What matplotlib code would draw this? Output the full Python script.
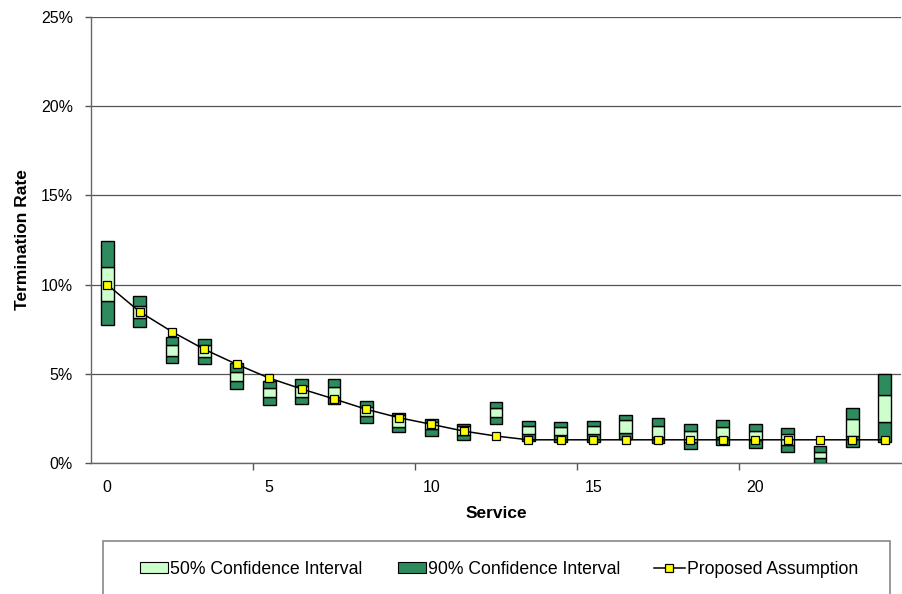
import matplotlib
matplotlib.use("Agg")
import matplotlib.pyplot as plt
from matplotlib.patches import Rectangle, Patch
from matplotlib.lines import Line2D
import numpy as np

plt.rcParams['font.family'] = ['Liberation Sans', 'DejaVu Sans']

service = list(range(25))
# percentiles in %
p05 = [7.74, 7.62, 5.62, 5.55, 4.17, 3.27, 3.33, 3.29, 2.26, 1.72, 1.51, 1.29, 2.19,
       1.25, 1.20, 1.20, 1.33, 1.10, 0.78, 1.00, 0.82, 0.60, 0.00, 0.88, 1.16]
p25 = [9.10, 8.11, 6.02, 5.96, 4.60, 3.68, 3.72, 3.72, 2.63, 2.04, 1.89, 1.57, 2.56,
       1.61, 1.57, 1.61, 1.66, 1.44, 1.20, 1.47, 1.27, 1.01, 0.26, 1.53, 2.28]
p75 = [10.97, 8.80, 6.61, 6.60, 5.12, 4.19, 4.33, 4.28, 3.16, 2.67, 2.32, 2.09, 3.07,
       2.07, 2.02, 2.09, 2.41, 2.07, 1.79, 2.04, 1.79, 1.61, 0.64, 2.47, 3.81]
p95 = [12.44, 9.36, 7.05, 6.95, 5.59, 4.60, 4.69, 4.69, 3.49, 2.82, 2.47, 2.20, 3.40,
       2.35, 2.28, 2.37, 2.69, 2.50, 2.19, 2.41, 2.19, 1.98, 0.94, 3.10, 4.97]
proposed = [10.0, 8.48, 7.36, 6.37, 5.53, 4.76, 4.15, 3.59, 3.01, 2.54, 2.17, 1.79, 1.51,
            1.30, 1.30, 1.30, 1.30, 1.30, 1.30, 1.30, 1.30, 1.30, 1.30, 1.30, 1.30]

x_labels = ['0', '5', '10', '15', '20']

dark = '#2E8B5E'
light = '#CCFFCC'

W, H = 902, 594
fig = plt.figure(figsize=(W / 100, H / 100), dpi=100)
ax = fig.add_axes([91 / W, 1 - 463 / H, (901 - 91) / W, (463 - 17) / H])

x = np.array(service)
p05a, p25a, p75a, p95a = map(np.array, (p05, p25, p75, p95))
bw = 0.4
ax.bar(x, p25a - p05a, bottom=p05a, width=bw, color=dark, edgecolor='black', linewidth=1.0, zorder=3)
ax.bar(x, p75a - p25a, bottom=p25a, width=bw, color=light, edgecolor='black', linewidth=1.0, zorder=3)
ax.bar(x, p95a - p75a, bottom=p75a, width=bw, color=dark, edgecolor='black', linewidth=1.0, zorder=3)

ax.plot(x, proposed, color='black', linewidth=1.1, marker='s', markersize=5.5,
        markerfacecolor='#FFFF00', markeredgecolor='black', markeredgewidth=0.9, zorder=5)

ax.set_xlim(-0.5, 24.5)
ax.set_ylim(0, 25)
ax.set_yticks([0, 5, 10, 15, 20, 25])
ax.set_yticklabels([f'{v}%' for v in [0, 5, 10, 15, 20, 25]])
ax.yaxis.grid(True, color='#555555', linewidth=0.9, zorder=0)
ax.set_axisbelow(True)
ax.set_xticks([0, 5, 10, 15, 20])
ax.set_xticklabels(x_labels)
ax.set_xticks([4.5, 9.5, 14.5, 19.5], minor=True)
ax.tick_params(axis='x', which='major', length=0, labelsize=11.5, pad=12, colors='black')
ax.tick_params(axis='x', which='minor', length=5, width=1, color='#555555', direction='out')
ax.tick_params(axis='y', which='major', length=4, width=1, color='#555555', labelsize=11.5, pad=9)

for s in ['top', 'right']:
    ax.spines[s].set_visible(False)
for s in ['left', 'bottom']:
    ax.spines[s].set_color('#666666')
    ax.spines[s].set_linewidth(1.0)

ax.set_xlabel('Service', fontsize=12.5, fontweight='bold', labelpad=8)
ax.set_ylabel('Termination Rate', fontsize=12.5, fontweight='bold', labelpad=8)

# legend box
fig.patches.append(Rectangle((103 / W, -0.05), (890 - 103) / W, (594 - 541) / H + 0.05,
                             transform=fig.transFigure, facecolor='white',
                             edgecolor='#888888', linewidth=1.2))
labels = ['50% Confidence Interval', '90% Confidence Interval', 'Proposed Assumption']
handles = [Patch(facecolor=light, edgecolor='black', linewidth=0.8),
           Patch(facecolor=dark, edgecolor='black', linewidth=0.8),
           Line2D([0], [0], color='black', linewidth=1.1, marker='s', markersize=5.5,
                  markerfacecolor='#FFFF00', markeredgecolor='black', markeredgewidth=0.9)]
lefts = [140, 398, 654]
hlens = [1.6, 1.6, 1.75]
for h, lab, lx, hl in zip(handles, labels, lefts, hlens):
    fig.legend([h], [lab], loc='center left', bbox_to_anchor=(lx / W, 1 - 569 / H),
               frameon=False, fontsize=12.7, handlelength=hl, handleheight=0.55,
               handletextpad=0.1, borderpad=0, borderaxespad=0)

fig.savefig('out.png', dpi=100)
